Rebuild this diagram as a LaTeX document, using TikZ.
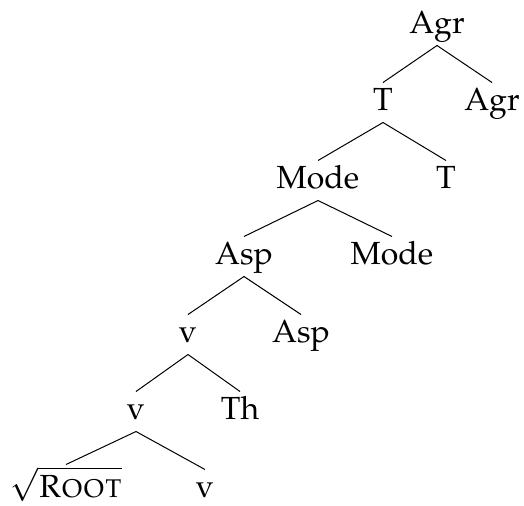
\documentclass[tikz,border=0pt]{standalone}
\usepackage[T1]{fontenc}
\usepackage{mathpazo}
\usepackage{tikz}

\begin{document}
\begin{tikzpicture}[x=0.5pt, y=-0.5pt, line width=0.5pt,
  cat/.style={anchor=base, inner sep=0pt, text height=13.5pt, text depth=6pt,
    font=\fontsize{16}{19}\selectfont},
  leaf/.style={cat, text depth=1.5pt}]
  \useasboundingbox (0,0) rectangle (524,505);

  % Categories, level by level
  \node[cat] (agr) at (437,33) {Agr};
  \node[cat] (t) at (383,110) {T};
  \node[cat] (agrhd) at (492,110) {Agr};
  \node[cat] (mode) at (318,188) {Mode};
  \node[cat] (thd) at (446,188) {T};
  \node[cat] (asp) at (244,264) {Asp};
  \node[cat] (modehd) at (392,264) {Mode};
  \node[cat] (v) at (188,342) {v};
  \node[cat] (asphd) at (301,342) {Asp};
  \node[cat] (vlow) at (136,419) {v};
  \node[cat] (th) at (240,419) {Th};
  \node[leaf, text height=16pt] (root) at (66,497) {$\sqrt{\textsc{Root}}$};
  \node[leaf] (vhd) at (205,497) {v};

  % Branches
  \draw (agr.south) -- (t.north);
  \draw (agr.south) -- (agrhd.north);
  \draw (t.south) -- (mode.north);
  \draw (t.south) -- (thd.north);
  \draw (mode.south) -- (asp.north);
  \draw (mode.south) -- (modehd.north);
  \draw (asp.south) -- (v.north);
  \draw (asp.south) -- (asphd.north);
  \draw (v.south) -- (vlow.north);
  \draw (v.south) -- (th.north);
  \draw (vlow.south) -- (root.north);
  \draw (vlow.south) -- (vhd.north);
\end{tikzpicture}
\end{document}
